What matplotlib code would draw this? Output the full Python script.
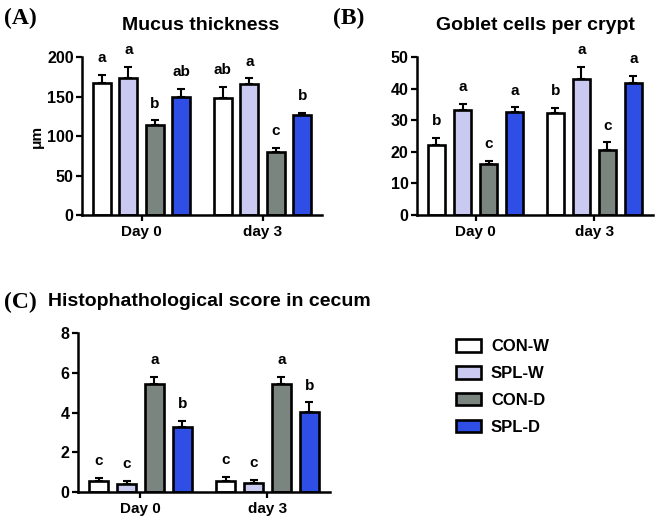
import numpy as np
import matplotlib.pyplot as plt
from matplotlib.patches import Patch

plt.rcParams['font.family'] = ['Liberation Sans', 'DejaVu Sans']
plt.rcParams['font.weight'] = 'bold'

groups = ['CON-W', 'SPL-W', 'CON-D', 'SPL-D']
colors = ['#ffffff', '#c9c9f2', '#7b8580', '#2f4ee6']
days = ['Day 0', 'day 3']

# (A) mucus thickness
mucus = [[167, 173, 114, 150], [148, 166, 80, 126]]
mucus_err = [[10, 15, 6, 10], [14, 7, 5, 3]]
mucus_sig = [['a', 'a', 'b', 'ab'], ['ab', 'a', 'c', 'b']]

# (B) goblet cells per crypt
goblet = [[22.3, 33.2, 16.2, 32.5], [32.2, 43.2, 20.7, 41.8]]
goblet_err = [[2.2, 2.0, 0.9, 1.6], [1.8, 3.8, 2.3, 2.2]]
goblet_sig = [['b', 'a', 'c', 'a'], ['b', 'a', 'c', 'a']]

# (C) histopathological score
score = [[0.55, 0.4, 5.45, 3.25], [0.55, 0.45, 5.45, 4.05]]
score_err = [[0.17, 0.15, 0.35, 0.33], [0.23, 0.17, 0.35, 0.47]]
score_sig = [['c', 'c', 'a', 'b'], ['c', 'c', 'a', 'b']]

centers = [0, 4.57]
offsets = [-1.5, -0.5, 0.5, 1.5]


def panel(ax, vals, errs, sigs, ymax, step):
    for d in range(2):
        for i in range(4):
            x = centers[d] + offsets[i]
            ax.bar(x, vals[d][i], width=0.68, color=colors[i],
                   edgecolor='black', linewidth=1.9, zorder=2)
            ax.errorbar(x, vals[d][i], yerr=[[0], [errs[d][i]]], fmt='none',
                        ecolor='black', elinewidth=1.5, capsize=3, capthick=1.5,
                        zorder=1)
            ax.annotate(sigs[d][i], (x, vals[d][i] + errs[d][i]),
                        xytext=(0, 7), textcoords='offset points',
                        ha='center', va='bottom', fontsize=11, fontweight='bold')
    ax.set_xlim(-2.25, centers[1] + 2.25)
    ax.set_ylim(0, ymax)
    ax.set_yticks(np.arange(0, ymax + step / 2, step))
    ax.set_xticks(centers)
    ax.set_xticklabels(days, fontsize=11, fontweight='bold')
    ax.tick_params(axis='y', labelsize=11.5, width=1.6, length=4, pad=2)
    ax.tick_params(axis='x', width=1.6, length=4)
    for s in ['top', 'right']:
        ax.spines[s].set_visible(False)
    for s in ['left', 'bottom']:
        ax.spines[s].set_linewidth(1.8)


fig = plt.figure(figsize=(6.58, 5.19), dpi=100)

axA = fig.add_axes([0.1246, 0.5857, 0.365, 0.3044])
panel(axA, mucus, mucus_err, mucus_sig, 200, 50)
axA.set_ylabel('μm', fontsize=11, fontweight='bold', labelpad=2)

axB = fig.add_axes([0.6337, 0.5857, 0.3587, 0.3044])
panel(axB, goblet, goblet_err, goblet_sig, 50, 10)

axC = fig.add_axes([0.1185, 0.052, 0.383, 0.306])
panel(axC, score, score_err, score_sig, 8, 2)

serif = ['Liberation Serif', 'DejaVu Serif']
fig.text(4 / 658, 1 - 18 / 519, '(A)', family=serif, fontsize=17, fontweight='bold', va='center')
fig.text(333 / 658, 1 - 18 / 519, '(B)', family=serif, fontsize=17, fontweight='bold', va='center')
fig.text(4 / 658, 1 - 302 / 519, '(C)', family=serif, fontsize=17, fontweight='bold', va='center')
fig.text(201 / 658, 1 - 26 / 519, 'Mucus thickness', fontsize=14, fontweight='bold',
         ha='center', va='center')
fig.text(535 / 658, 1 - 26 / 519, 'Goblet cells per crypt', fontsize=14, fontweight='bold',
         ha='center', va='center')
fig.text(48 / 658, 1 - 302 / 519, 'Histophathological score in cecum', fontsize=14,
         fontweight='bold', ha='left', va='center')

handles = [Patch(facecolor=c, edgecolor='black', linewidth=1.9) for c in colors]
fig.legend(handles, groups, loc='upper left', bbox_to_anchor=(441 / 658, 1 - 324 / 519),
           frameon=False, handlelength=1.5, handleheight=0.8,
           labelspacing=0.7, handletextpad=0.6, prop={'weight': 'bold', 'size': 12})

fig.savefig('out.png', dpi=100)
